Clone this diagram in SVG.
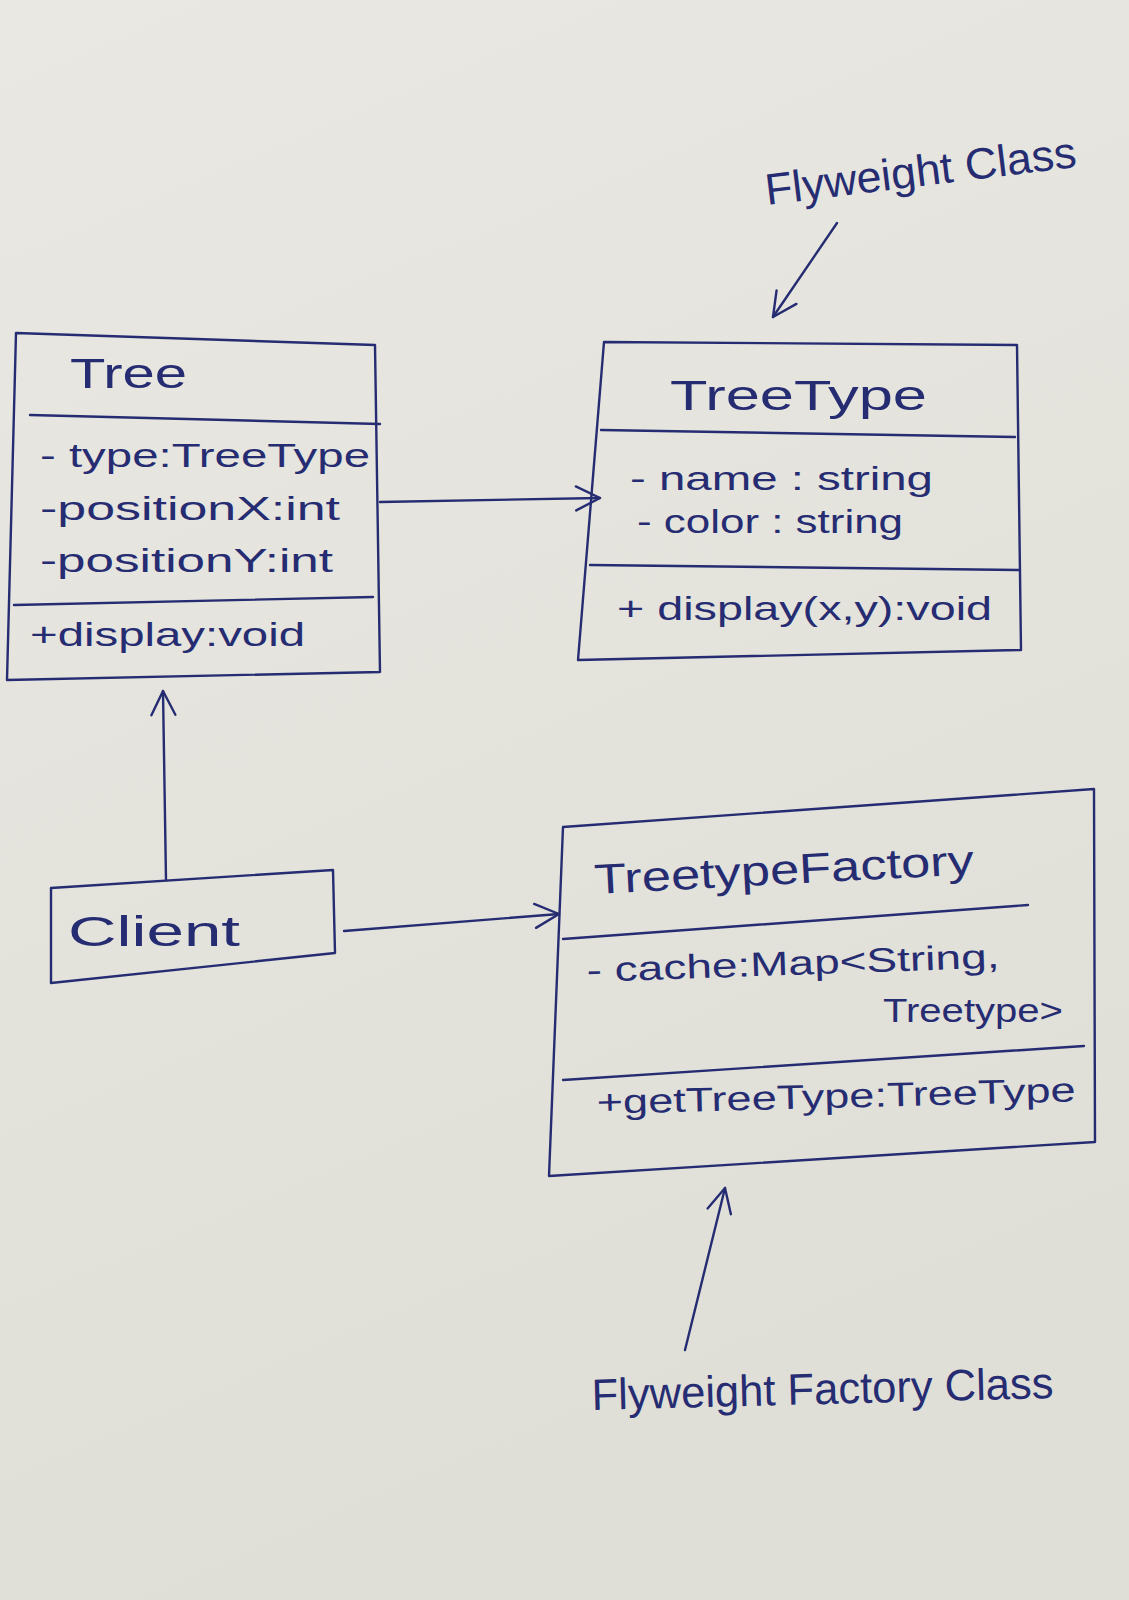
<svg xmlns="http://www.w3.org/2000/svg" width="1129" height="1600" viewBox="0 0 1129 1600">
<defs>
<linearGradient id="paper" x1="0" y1="0" x2="0.3" y2="1">
<stop offset="0" stop-color="#e9e8e2"/>
<stop offset="1" stop-color="#dfded7"/>
</linearGradient>
<marker id="open" markerUnits="userSpaceOnUse" markerWidth="30" markerHeight="30" viewBox="0 0 30 30" refX="27" refY="15" orient="auto">
<path d="M3,3 L27,15 L3,27" fill="none" stroke="#262c72" stroke-width="2.4" stroke-linecap="round" stroke-linejoin="round"/>
</marker>
<style>
.ink{fill:none;stroke:#262c72;stroke-width:2.4;stroke-linecap:round;stroke-linejoin:round}
.t{fill:#262c72;font-family:"Liberation Sans","DejaVu Sans",sans-serif}
.title{font-size:42px}
.attr{font-size:34px}
.note{font-size:44px}
</style>
</defs>
<rect x="0" y="0" width="1129" height="1600" fill="url(#paper)"/>

<g id="tree">
<path class="ink" d="M16,333 L375,345 L380,672 L7,680 Z"/>
<path class="ink" d="M30,415 L380,424"/>
<path class="ink" d="M14,605 L373,597"/>
<text class="t title" x="70" y="388" textLength="117" lengthAdjust="spacingAndGlyphs">Tree</text>
<text class="t attr" x="40" y="467" textLength="330" lengthAdjust="spacingAndGlyphs">- type:TreeType</text>
<text class="t attr" x="40" y="520" textLength="300" lengthAdjust="spacingAndGlyphs">-positionX:int</text>
<text class="t attr" x="40" y="572" textLength="293" lengthAdjust="spacingAndGlyphs">-positionY:int</text>
<text class="t attr" x="30" y="646" textLength="275" lengthAdjust="spacingAndGlyphs">+display:void</text>
</g>

<g id="treetype">
<path class="ink" d="M604,342 L1017,345 L1021,650 L578,660 Z"/>
<path class="ink" d="M601,430 L1015,437"/>
<path class="ink" d="M590,565 L1020,570"/>
<text class="t title" x="670" y="410" textLength="257" lengthAdjust="spacingAndGlyphs">TreeType</text>
<text class="t attr" x="630" y="490" textLength="303" lengthAdjust="spacingAndGlyphs">- name : string</text>
<text class="t attr" x="637" y="533" textLength="266" lengthAdjust="spacingAndGlyphs">- color : string</text>
<text class="t attr" x="617" y="620" textLength="375" lengthAdjust="spacingAndGlyphs">+ display(x,y):void</text>
</g>

<g id="factory">
<path class="ink" d="M563,827 L1094,789 L1095,1142 L549,1176 Z"/>
<path class="ink" d="M563,939 L1028,905"/>
<path class="ink" d="M563,1080 L1084,1046"/>
<text class="t title" x="595" y="894" textLength="380" lengthAdjust="spacingAndGlyphs" transform="rotate(-3 595 894)">TreetypeFactory</text>
<text class="t attr" x="587" y="982" textLength="413" lengthAdjust="spacingAndGlyphs" transform="rotate(-2 587 982)">- cache:Map&lt;String,</text>
<text class="t attr" x="883" y="1022" textLength="180" lengthAdjust="spacingAndGlyphs">Treetype&gt;</text>
<text class="t attr" x="597" y="1114" textLength="479" lengthAdjust="spacingAndGlyphs" transform="rotate(-1.5 597 1114)">+getTreeType:TreeType</text>
</g>

<g id="client">
<path class="ink" d="M51,888 L333,870 L335,953 L51,983 Z"/>
<text class="t title" x="68" y="946" textLength="172" lengthAdjust="spacingAndGlyphs">Client</text>
</g>

<g id="flyweight-label">
<text class="t note" x="767" y="205" textLength="313" lengthAdjust="spacingAndGlyphs" transform="rotate(-7 767 205)">Flyweight Class</text>
</g>

<g id="factory-label">
<text class="t note" x="592" y="1410" textLength="462" lengthAdjust="spacingAndGlyphs" transform="rotate(-1.5 592 1410)">Flyweight Factory Class</text>
</g>

<g id="connectors">
<path class="ink" d="M380,502 L600,498" marker-end="url(#open)"/>
<path class="ink" d="M166,880 L163,691" marker-end="url(#open)"/>
<path class="ink" d="M344,931 L559,914" marker-end="url(#open)"/>
<path class="ink" d="M837,223 L773,317" marker-end="url(#open)"/>
<path class="ink" d="M685,1350 L725,1188" marker-end="url(#open)"/>
</g>
</svg>
